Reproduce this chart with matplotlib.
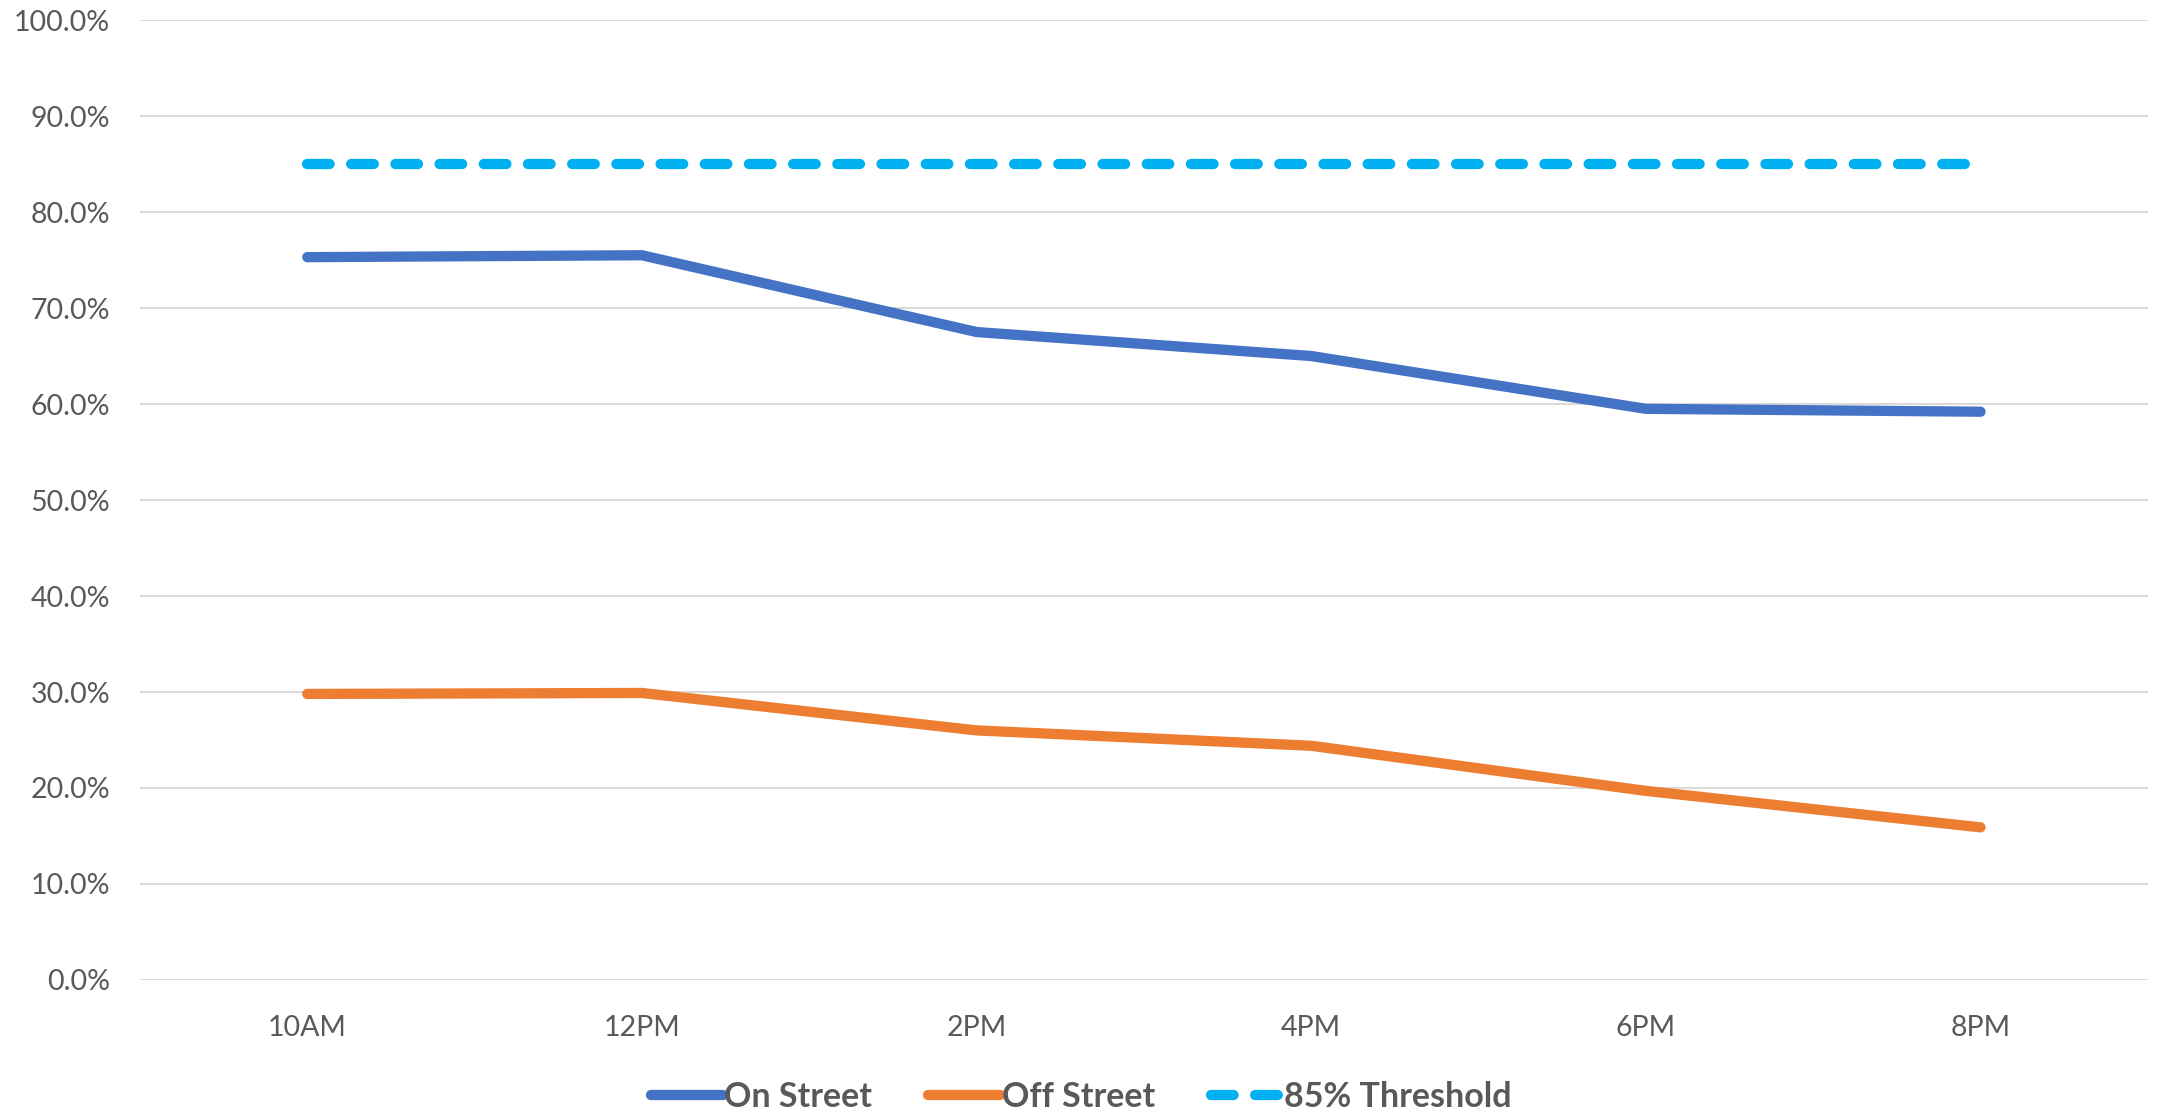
import matplotlib
matplotlib.use("Agg")
import matplotlib.pyplot as plt
from matplotlib.ticker import FuncFormatter

categories = ["10AM", "12PM", "2PM", "4PM", "6PM", "8PM"]
on_street = [75.3, 75.5, 67.5, 65.0, 59.5, 59.2]
off_street = [29.8, 29.9, 26.0, 24.4, 19.7, 15.9]
threshold = [85.0, 85.0, 85.0, 85.0, 85.0, 85.0]
y_ticks = [0, 10, 20, 30, 40, 50, 60, 70, 80, 90, 100]

plt.rcParams['font.family'] = ['Lato', 'DejaVu Sans']

fig = plt.figure(figsize=(21.63, 11.14), dpi=100)
ax = fig.add_axes([0.0647, 0.1203, 0.9283, 0.8617])

x = list(range(len(categories)))
lw = 7.4
ax.plot(x, on_street, color="#4472C4", lw=lw, solid_capstyle="round",
        solid_joinstyle="round", label="On Street", zorder=3)
ax.plot(x, off_street, color="#ED7D31", lw=lw, solid_capstyle="round",
        solid_joinstyle="round", label="Off Street", zorder=3)
ax.plot(x, threshold, color="#00B0F0", lw=lw, dashes=(2.2, 2.1),
        dash_capstyle="round", label="85% Threshold", zorder=3)

ax.set_xlim(-0.5, len(categories) - 0.5)
ax.set_ylim(0, 100)
ax.set_yticks(y_ticks)
ax.yaxis.set_major_formatter(FuncFormatter(lambda v, p: f"{v:.1f}%"))
ax.set_xticks(x)
ax.set_xticklabels(categories)

ax.grid(axis="y", color="#D9D9D9", lw=1.4, zorder=0)
ax.set_axisbelow(True)
for s in ax.spines.values():
    s.set_visible(False)
ax.tick_params(axis="both", length=0, labelsize=20.5, colors="#595959")
ax.tick_params(axis="y", pad=21.5)
ax.tick_params(axis="x", pad=25)

leg = fig.legend(loc="center", bbox_to_anchor=(0.5, 0.015), ncol=3, frameon=False,
                 handlelength=2.1, handletextpad=0.05, columnspacing=1.65,
                 prop={'weight': 'bold', 'size': 24.5})
for t in leg.get_texts():
    t.set_color("#595959")

fig.savefig("out.png", dpi=100, facecolor="white")
